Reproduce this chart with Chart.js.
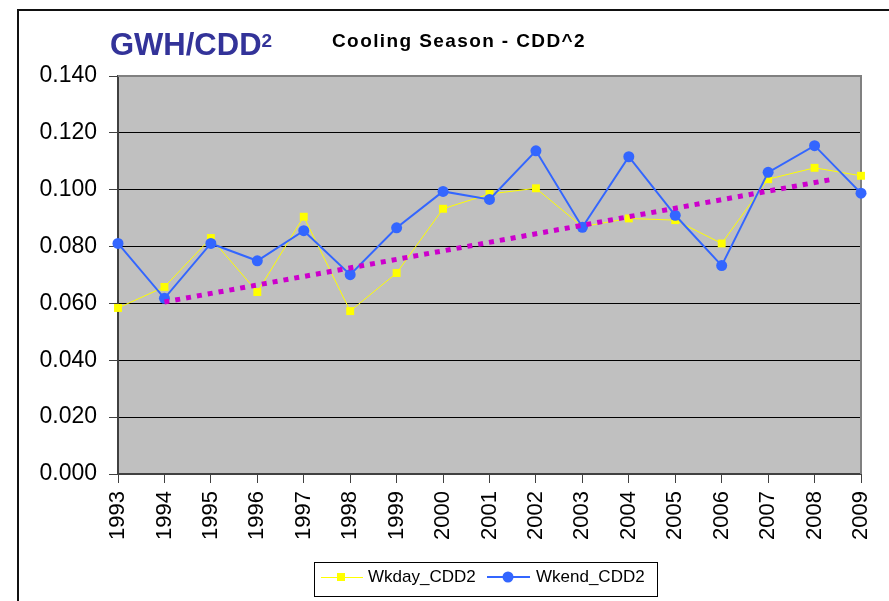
<!DOCTYPE html>
<html>
<head>
<meta charset="utf-8">
<script src="https://cdn.jsdelivr.net/npm/chart.js@4"></script>
<style>
  body { margin: 0; background: #fff; }
  #wrap { position: relative; width: 889px; height: 601px; }
  canvas { position: absolute; left: 0; top: 0; }
  .ttl { position: absolute; font-family: "Liberation Sans", Arial, sans-serif; font-weight: bold; white-space: nowrap; }
  #main-title { left: 110px; top: 29px; font-size: 31px; line-height: 31px; color: #333399; }
  #main-title span { font-size: 19px; position: relative; top: -8px; }
  #sub-title { left: 332px; top: 31px; font-size: 19px; line-height: 19px; letter-spacing: 1.4px; color: #000; }
</style>
</head>
<body>
<div id="wrap">
  <canvas id="chart" width="889" height="601"></canvas>
  <div class="ttl" id="main-title">GWH/CDD<span>2</span></div>
  <div class="ttl" id="sub-title">Cooling Season - CDD^2</div>
</div>
<script>
// values
const years = [1993, 1994, 1995, 1996, 1997, 1998, 1999, 2000, 2001, 2002, 2003, 2004, 2005, 2006, 2007, 2008, 2009];
const wkday = [0.0584, 0.0658, 0.0830, 0.0640, 0.0905, 0.0573, 0.0707, 0.0933, 0.0985, 0.1005, 0.0870, 0.0899, 0.0893, 0.0811, 0.1037, 0.1077, 0.1049];
const wkend = [0.0811, 0.0618, 0.0811, 0.0750, 0.0856, 0.0701, 0.0866, 0.0994, 0.0966, 0.1137, 0.0868, 0.1116, 0.0910, 0.0733, 0.1061, 0.1155, 0.0988];
const trendYears = [1994, 2008.4];
const trendValues = [0.0605, 0.1037];
const seriesNames = ['Wkday_CDD2', 'Wkend_CDD2'];

const FONT = '"Liberation Sans", Arial, sans-serif';

const plotFrame = {
  id: 'plotFrame',
  beforeDraw(chart) {
    const { ctx, chartArea: a } = chart;
    ctx.save();
    ctx.fillStyle = '#C0C0C0';
    ctx.fillRect(a.left, a.top, a.right - a.left, a.bottom - a.top);
    // outer chart border (left and top only visible)
    ctx.strokeStyle = '#111';
    ctx.lineWidth = 2;
    ctx.beginPath();
    ctx.moveTo(18, 601);
    ctx.lineTo(18, 10);
    ctx.lineTo(889, 10);
    ctx.stroke();
    ctx.restore();
  },
  beforeDatasetsDraw(chart) {
    const { ctx, chartArea: a } = chart;
    ctx.save();
    ctx.strokeStyle = '#808080';
    ctx.lineWidth = 2;
    ctx.beginPath();
    ctx.moveTo(a.left, a.top);
    ctx.lineTo(a.right, a.top);
    ctx.lineTo(a.right, a.bottom);
    ctx.stroke();
    ctx.restore();
  }
};

const boxLegend = {
  id: 'boxLegend',
  afterDraw(chart) {
    const ctx = chart.ctx;
    ctx.save();
    ctx.fillStyle = '#fff';
    ctx.fillRect(314, 562, 343, 34);
    ctx.strokeStyle = '#000';
    ctx.lineWidth = 1;
    ctx.strokeRect(314.5, 562.5, 343, 34);
    const y = 577;
    // weekday sample
    ctx.strokeStyle = '#FFFF00';
    ctx.lineWidth = 1;
    ctx.beginPath(); ctx.moveTo(321, y + 0.5); ctx.lineTo(363, y + 0.5); ctx.stroke();
    ctx.fillStyle = '#FFFF00';
    ctx.fillRect(337, y - 4, 8, 8);
    // weekend sample
    ctx.strokeStyle = '#3366FF';
    ctx.lineWidth = 2;
    ctx.beginPath(); ctx.moveTo(487, y); ctx.lineTo(530, y); ctx.stroke();
    ctx.fillStyle = '#3366FF';
    ctx.beginPath(); ctx.arc(508, y, 5.5, 0, Math.PI * 2); ctx.fill();
    ctx.fillStyle = '#000';
    ctx.font = '17px ' + FONT;
    ctx.textBaseline = 'middle';
    ctx.fillText(seriesNames[0], 368, y);
    ctx.fillText(seriesNames[1], 536, y);
    ctx.restore();
  }
};

new Chart(document.getElementById('chart'), {
  type: 'line',
  data: {
    datasets: [
      {
        label: seriesNames[0],
        data: years.map((yr, i) => ({ x: yr, y: wkday[i] })),
        borderColor: '#FFFF00',
        backgroundColor: '#FFFF00',
        borderWidth: 1,
        pointStyle: 'rect',
        pointRadius: 5.6,
        pointBorderWidth: 0,
        clip: false,
        order: 2
      },
      {
        label: seriesNames[1],
        data: years.map((yr, i) => ({ x: yr, y: wkend[i] })),
        borderColor: '#3366FF',
        backgroundColor: '#3366FF',
        borderWidth: 2,
        pointStyle: 'circle',
        pointRadius: 5.5,
        pointBorderWidth: 0,
        clip: false,
        order: 1
      },
      {
        label: 'trend',
        data: trendYears.map((yr, i) => ({ x: yr, y: trendValues[i] })),
        borderColor: '#CC00CC',
        borderWidth: 5,
        borderDash: [5, 6],
        borderCapStyle: 'butt',
        pointRadius: 0,
        clip: false,
        order: 0
      }
    ]
  },
  options: {
    responsive: false,
    animation: false,
    layout: { padding: { left: 0, top: 76, right: 28, bottom: 0 } },
    plugins: { legend: { display: false }, tooltip: { enabled: false } },
    scales: {
      x: {
        type: 'linear',
        min: 1993,
        max: 2009,
        afterFit: s => { s.height = 127; s.paddingLeft = 0; s.paddingRight = 0; },
        afterBuildTicks: s => { s.ticks = years.map(v => ({ value: v })); },
        ticks: {
          callback: v => String(v),
          minRotation: 90,
          maxRotation: 90,
          autoSkip: false,
          padding: 8,
          color: '#000',
          font: { family: FONT, size: 22 }
        },
        grid: { drawOnChartArea: false, tickLength: 9, color: '#404040', lineWidth: 1 },
        border: { color: '#404040', width: 2 }
      },
      y: {
        min: 0,
        max: 0.14,
        afterFit: s => { s.width = 118; s.paddingTop = 0; s.paddingBottom = 0; },
        ticks: {
          stepSize: 0.02,
          callback: v => v.toFixed(3),
          padding: 12,
          color: '#000',
          font: { family: FONT, size: 23 }
        },
        grid: {
          tickLength: 9,
          color: c => (c.index === 7 ? '#808080' : '#000'),
          tickColor: '#404040',
          lineWidth: 1
        },
        border: { color: '#404040', width: 2 }
      }
    }
  },
  plugins: [plotFrame, boxLegend]
});
</script>
</body>
</html>
